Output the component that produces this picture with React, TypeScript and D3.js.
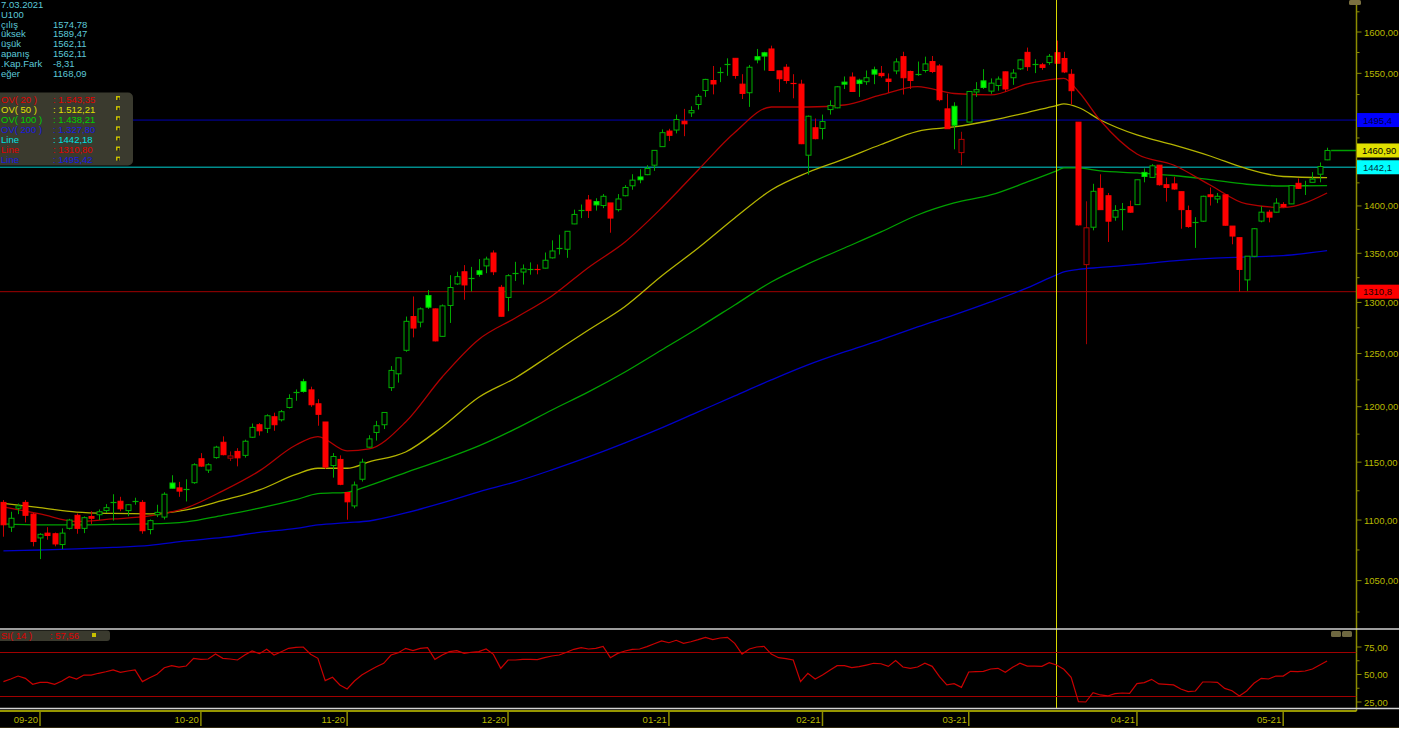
import React from "react";
import * as d3 from "d3";

// ---- candle data (daily, 25.08.2020 .. 11.05.2021), index 0 = first candle ----
const opens = [1115,1094,1110,1115,1105,1085,1089,1088.5,1079.5,1093,1104,1093,1103,1104.5,1108,1114.5,1116,1108,1115.5,1115,1092,1104.5,1102.5,1131.7,1127.5,1126,1132,1153,1143,1154,1167.7,1153.5,1159.5,1156,1172.2,1183.5,1180.2,1190.8,1188,1199.3,1212.5,1223.3,1215.6,1202.7,1186,1147,1152.4,1123.5,1112,1135,1163.3,1176.5,1183.5,1217.7,1230.7,1253.1,1286,1280.5,1306.9,1293.6,1266.6,1297,1318.6,1331,1324,1332,1337,1350.3,1315.2,1305,1328.7,1330.7,1333.3,1334,1334.7,1345.3,1355.5,1354.2,1380.8,1395.5,1406.4,1404.7,1400.4,1403.2,1396,1411,1421.8,1431.5,1434,1444.5,1465.2,1482.8,1484,1494.1,1503.7,1513.4,1529.7,1541.5,1550.5,1560.6,1568,1537.2,1527.1,1570,1574.7,1579.3,1553,1557.3,1538.4,1537.2,1455.6,1486.6,1485.8,1507.5,1509.5,1539.6,1545.6,1541.9,1540.1,1554.2,1550,1543.2,1552.9,1570,1552.2,1548.5,1553.4,1564.1,1558.8,1508.3,1511.3,1458.5,1493.1,1528,1541.1,1529,1535.6,1551.8,1544.8,1555.4,1575.2,1560.4,1560.2,1562.9,1574.78,1567.8,1548.9,1493,1338.3,1377.3,1419,1411,1388,1396.5,1399.2,1401.4,1436.5,1431,1444.5,1423,1423.9,1415.4,1395,1381.5,1383.7,1412,1407.5,1412,1378.5,1366.3,1322.7,1346.9,1383.8,1393.3,1393.3,1401.6,1402.2,1424.5,1421.8,1425.6,1434.5,1450.4];
const highs = [1117,1107,1114,1117,1106,1089,1094,1089.5,1093,1101,1105.5,1103,1107.5,1109,1113.5,1122,1119.8,1113.5,1119,1117,1100.5,1113,1123.7,1138.5,1132.7,1135,1149,1158,1149,1164.5,1173,1159.5,1162.4,1170,1184.6,1185,1193,1194.5,1197,1211.5,1216,1226,1218.6,1207,1186,1158,1156,1124,1133,1153,1174,1187,1194.7,1238,1246,1286,1306,1295,1312.5,1294,1298,1327.5,1331,1337.8,1336,1344,1346.5,1353,1317.6,1328.5,1341.2,1338.5,1340.6,1338.5,1350.8,1363.5,1369.4,1373,1396,1401.5,1411.8,1408.3,1412.8,1403.2,1412.8,1422.5,1434.5,1440,1444.5,1461,1484.7,1485.4,1501.7,1508.3,1511.3,1525.6,1543.5,1558.8,1557.2,1568,1568,1549,1560,1579.3,1575.9,1583.3,1553,1561,1549,1542.4,1500.6,1497.2,1501.7,1518.2,1535,1546.3,1551.1,1543.6,1553.4,1558,1558.8,1549.9,1568,1575.9,1553.3,1564.1,1570,1570.8,1561,1526,1516,1482,1529,1539.6,1555,1544,1546.3,1552.2,1555,1566.9,1581,1566.9,1562.5,1573.2,1589.47,1575.9,1555,1493,1405,1424,1434.4,1414,1400.8,1403.2,1405.7,1428.5,1441,1445.6,1444.5,1430.9,1431.6,1415.4,1400.4,1388,1411,1420,1414,1412,1378.5,1366.3,1347,1376.4,1399.7,1395.8,1408.3,1404,1422,1429.8,1427.3,1436.8,1447.5,1464];
const lows = [1086,1090,1105,1098,1078,1067.5,1083.5,1078,1075.7,1092,1088.5,1089,1096.5,1100,1106,1099.5,1107.5,1103.3,1113,1088.5,1088,1102.5,1100.5,1127,1119.8,1115.8,1131,1145.7,1140.5,1153,1156,1151,1146.3,1154,1171.5,1173.7,1176,1178,1186.5,1198.4,1205.5,1213,1199.9,1182.6,1144,1136.4,1129.8,1100.3,1110,1133,1163,1169.2,1179.6,1214.6,1222.4,1251.7,1265.6,1275.4,1293.6,1261.7,1266,1279.7,1317.6,1302.7,1311,1326,1329.5,1327.6,1286,1291.3,1321.6,1318,1328,1328.4,1334.4,1344.6,1348.7,1345.3,1380.5,1387,1387.1,1395,1397.6,1371.5,1394,1410.4,1417.5,1424.6,1433.5,1438.2,1465,1471.5,1480.2,1477,1499,1507.5,1522.2,1525.2,1539.6,1547.1,1543.6,1519.8,1510.6,1562,1553.4,1553,1527.8,1537.8,1520.6,1468,1434,1473.4,1473.4,1501.7,1509,1531.5,1528.5,1522.2,1536.4,1537.2,1545,1527,1549,1525,1531.5,1547.1,1551,1550.3,1517.1,1485.5,1462.2,1444.6,1493,1522.2,1531.5,1525.8,1529.5,1528,1536.4,1554,1553,1550.3,1554.2,1560.2,1562.11,1550.3,1513.2,1379,1259,1374,1396,1361.8,1384.2,1374,1392.6,1401,1425.6,1431,1422,1404.6,1417.5,1375.7,1376.7,1355.6,1383,1400.4,1403,1379,1359.4,1310.8,1311.6,1346,1382.5,1382.5,1393,1397.8,1402,1418.3,1411.8,1425.6,1425.6,1450];
const closes = [1096,1101.5,1112,1104,1082,1088,1087,1080,1089,1100,1093,1102,1101.5,1107,1110.5,1115,1109.5,1113,1116.5,1091,1099.5,1106.5,1122,1127.2,1124.7,1126.7,1147.7,1146.5,1147.7,1163.3,1156.6,1155.5,1153.8,1168.6,1181.1,1178,1191.7,1183.5,1195.4,1207.6,1213.5,1214.1,1201.8,1193,1145.7,1155,1130.6,1115.5,1130,1150,1170.7,1182.6,1194.7,1233.9,1245.9,1281.3,1274.7,1293.6,1295.3,1262.2,1296.6,1315,1326,1317.6,1324.6,1328.3,1344,1331,1286.3,1327,1329.6,1333.9,1334,1333.3,1342.8,1352.4,1356,1373,1390.9,1396.1,1395,1401.1,1410.4,1387,1407.5,1420,1428,1428.4,1440.8,1461,1481,1478,1496,1491.1,1506.3,1522.9,1542.8,1537.4,1551.4,1561.2,1547.5,1526.3,1557.3,1566.1,1570.7,1553.4,1543.6,1541.5,1537.6,1468.5,1499.8,1474.2,1493.7,1512.1,1534.1,1537.2,1528.6,1537.9,1544.8,1549.1,1547.3,1540.4,1563.7,1544.8,1541.5,1549.2,1561.3,1552.2,1519,1485.5,1489.5,1473.4,1528.6,1530.7,1533.3,1538.4,1543.2,1531.5,1550.3,1566.1,1558,1561.2,1557.1,1570.42,1562.11,1551.7,1529.5,1379.8,1376.7,1415.8,1396,1383.7,1395.2,1397.2,1393.3,1428.4,1432,1443.8,1423,1420,1418.3,1396,1378,1382.3,1410.4,1410,1410.4,1379.4,1368,1333.4,1347,1375.7,1393.3,1388,1403,1399.4,1422,1419,1422.6,1429.1,1443,1460.9];

// RSI(14), one value per candle
const rsi = [43.5,45.9,48.6,46.5,41.1,42.9,42.9,41.1,44.1,48.0,45.9,49.5,49.5,51.1,52.5,54.1,52.0,53.2,54.1,43.5,47.1,50.2,56.2,58.0,56.8,57.7,64.7,63.8,64.1,68.6,64.7,64.1,63.2,67.7,71.4,68.9,72.9,67.7,70.7,73.8,74.7,75.0,68.4,64.7,44.4,47.5,40.5,36.8,44.1,49.5,53.5,57.1,60.2,67.7,69.8,
73.8,71.7,73.8,74.4,63.8,67.7,70.8,71.7,69.2,70.2,70.8,73.2,68.3,55.6,63.2,63.2,63.8,63.8,63.5,65.3,66.8,67.7,70.2,72.9,74.4,73.2,73.8,75.6,65.3,69.2,71.4,72.9,73.2,75.3,78.0,80.5,78.9,81.1,78.3,79.8,81.7,83.8,81.7,83.2,83.8,78.3,68.6,73.2,75.0,75.6,68.6,65.3,64.4,63.2,43.5,51.1,45.9,49.5,53.8,58.0,58.0,56.2,57.1,58.6,60.2,59.8,57.4,62.6,
56.8,55.6,56.8,60.2,57.4,48.0,40.5,41.7,38.3,52.3,52.6,52.9,55.0,55.6,52.0,56.5,60.2,57.7,57.7,57.4,60.8,58.6,54.7,47.4,25.3,25.0,33.5,31.4,30.5,32.6,33.2,32.9,41.7,42.6,45.6,41.4,41.1,40.5,36.8,34.4,35.0,43.2,43.2,42.9,37.4,35.3,30.5,35.0,42.0,46.5,45.9,48.6,48.6,52.9,52.6,53.2,55.0,58.6,62.3];

// moving averages sampled at candle indices
const maIdx = [0,5,10,15,20,25,30,35,40,43,47,50,55,60,65,70,75,80,85,90,95,100,105,110,115,120,125,130,135,140,144,145,147,150,155,160,165,170,175,181];
const ma20 = [1111.1,1105.2,1098.8,1100.9,1103.5,1110.3,1124.9,1142.3,1165.2,1172.8,1160.0,1161.7,1186.0,1227.7,1263.6,1284.6,1306.5,1335.4,1361.8,1397.8,1439.2,1481.2,1510.5,1510.5,1512.8,1524.5,1534.4,1526.2,1524.5,1537.4,1543.4,1544.1,1528.6,1494.9,1457.0,1444.7,1422.7,1402.1,1398.3,1414.0];
const ma50 = [1114.1,1110.5,1106.7,1105.6,1105.2,1108.6,1116.7,1125.7,1139.2,1144.6,1144.6,1150.2,1159.0,1181.5,1208.7,1226.8,1249.6,1272.8,1296.0,1326.7,1355.5,1387.1,1417.2,1436.4,1451.4,1467.6,1482.5,1487.5,1494.9,1504.1,1512.2,1514.0,1509.9,1495.5,1478.4,1467.1,1454.7,1440.6,1432.0,1430.7];
const ma100 = [1096.7,1095.9,1095.9,1096.3,1096.7,1098.4,1104.0,1110.1,1117.3,1122.5,1123.7,1129.5,1140.8,1152.0,1164.4,1179.7,1197.0,1213.7,1232.4,1253.4,1274.8,1297.5,1320.6,1339.0,1355.5,1372.3,1390.3,1403.2,1411.8,1426.0,1438.2,1441.4,1441.4,1438.1,1435.9,1433.1,1428.5,1423.5,1421.6,1422.0];
const ma200 = [1074.2,1075.0,1075.9,1077.1,1078.8,1082.5,1085.4,1089.6,1093.0,1095.9,1097.8,1099.2,1106.0,1114.5,1124.0,1132.7,1143.2,1154.6,1167.1,1180.6,1195.2,1210.0,1224.9,1239.1,1251.5,1263.1,1275.8,1287.6,1300.5,1314.6,1327.8,1330.8,1333.4,1335.4,1338.5,1342.1,1344.7,1346.2,1347.6,1352.7];

const monthLabels = ["09-20","10-20","11-20","12-20","01-21","02-21","03-21","04-21","05-21"];
const monthIdx = [5,27,47,69,91,112,132,155,175];
const cursorIdx = 144;

// price axis (labels at 1450 and 1500 are hidden behind the price boxes)
const yMajor = [1050,1100,1150,1200,1250,1300,1350,1400,1450,1500,1550,1600];
const yMajorLabels = ["1050,00","1100,00","1150,00","1200,00","1250,00","1300,00","1350,00","1400,00","","","1550,00","1600,00"];
const yMinor = [1025,1075,1125,1175,1225,1275,1325,1375,1425,1475,1525,1575,1625];
const rsiTicks = [25,50,75];
const rsiTickLabels = ["25,00","50,00","75,00"];
const rsiMinor = [37.5,62.5];
const rsiLevels = [70,30];

const hLineValues = [1495.42, 1442.18, 1310.80];
const hLineLabels = ["1495,4", "1442,1", "1310,8"];
const lastLabel = "1460,90";

const infoNames = ["7.03.2021","U100","çılış","üksek","üşük","apanış",".Kap.Fark","eğer"];
const infoValues = ["","","1574,78","1589,47","1562,11","1562,11","-8,31","1168,09"];
const legendNames = ["OV( 20 )","OV( 50 )","OV( 100 )","OV( 200 )","Line","Line","Line"];
const legendValues = [": 1.543,35",": 1.512,21",": 1.438,21",": 1.327,80",": 1442,18",": 1310,80",": 1495,42"];
const legendColors = ["#e00000","#e0e000","#00d000","#1818e0","#00e0e0","#e00000","#1818e0"];

const FONT = "'Liberation Sans', Arial, sans-serif";
const AXIS = "#b8b800";

export default function App() {
  const x = d3.scaleLinear().domain([5, 144]).range([40, 1056.5]);
  const y = d3.scaleLog().domain([1012.5, 1639.8]).range([628, 0]);
  const yr = d3.scaleLinear().domain([25, 75]).range([702, 647]);

  const maLine = d3.line<number>()
    .x((_, i) => x(maIdx[i]))
    .y((d) => y(d))
    .curve(d3.curveMonotoneX);
  const rsiLine = d3.line<number>()
    .x((_, i) => x(i))
    .y((d) => yr(d));

  const candles = opens.map((o, k) => {
    const c = closes[k], h = highs[k], l = lows[k];
    const prev = k > 0 ? closes[k - 1] : o;
    const up = c >= o;
    const green = c >= prev;
    const cx = Math.round(x(k)) + 0.5;
    const top = y(Math.max(o, c));
    const bot = y(Math.min(o, c));
    let bodyFill: string, bodyStroke: string, wick: string;
    if (green && up) { bodyFill = "#000"; bodyStroke = "#00b000"; wick = "#00a800"; }
    else if (green && !up) { bodyFill = "#00ff00"; bodyStroke = "#00d000"; wick = "#00a800"; }
    else if (!green && !up) { bodyFill = "#ff0000"; bodyStroke = "#ff0000"; wick = "#c80000"; }
    else { bodyFill = "#000"; bodyStroke = "#b00000"; wick = "#a00000"; }
    const hgt = bot - top;
    return (
      <g key={k}>
        <line x1={cx} x2={cx} y1={y(h)} y2={y(l)} stroke={wick} strokeWidth={1} />
        {hgt < 1.5 ? (
          <line x1={cx - 3} x2={cx + 3} y1={Math.round(top) + 0.5} y2={Math.round(top) + 0.5} stroke={bodyStroke === "#000" ? wick : bodyStroke} strokeWidth={1.2} />
        ) : (
          <rect x={cx - 2.5} y={top} width={5} height={hgt} fill={bodyFill} stroke={bodyStroke} strokeWidth={1} />
        )}
      </g>
    );
  });

  const lastY = y(closes[closes.length - 1]);
  const lastX = x(closes.length - 1);
  const axisX = 1356.5;

  return (
    <svg width={1425} height={731} style={{ position: "absolute", left: 0, top: 0, display: "block" }} fontFamily={FONT}>
      <rect x={0} y={0} width={1425} height={731} fill="#fff" />
      <rect x={0} y={0} width={1399} height={728} fill="#000" />
      <defs>
        <clipPath id="mainClip"><rect x={0} y={0} width={axisX} height={628} /></clipPath>
        <clipPath id="rsiClip"><rect x={0} y={630} width={axisX} height={78} /></clipPath>
      </defs>

      {/* horizontal reference lines */}
      <g clipPath="url(#mainClip)">
        <line x1={0} x2={axisX} y1={y(hLineValues[0])} y2={y(hLineValues[0])} stroke="#0000b4" strokeWidth={1} />
        <line x1={0} x2={axisX} y1={y(hLineValues[1])} y2={y(hLineValues[1])} stroke="#008c8c" strokeWidth={1.6} />
        <line x1={0} x2={axisX} y1={y(hLineValues[2])} y2={y(hLineValues[2])} stroke="#a00000" strokeWidth={1} />
        {/* moving averages */}
        <path d={maLine(ma200) || ""} fill="none" stroke="#0000c8" strokeWidth={1.3} />
        <path d={maLine(ma100) || ""} fill="none" stroke="#00a000" strokeWidth={1.3} />
        <path d={maLine(ma50) || ""} fill="none" stroke="#b4b400" strokeWidth={1.3} />
        <path d={maLine(ma20) || ""} fill="none" stroke="#b00000" strokeWidth={1.3} />
        {candles}
        <line x1={lastX + 4} x2={axisX} y1={lastY} y2={lastY} stroke="#00a000" strokeWidth={1.5} />
      </g>

      {/* cursor line */}
      <line x1={x(cursorIdx)} x2={x(cursorIdx)} y1={0} y2={708} stroke="#d8d800" strokeWidth={1} />

      {/* info box */}
      <g fontSize={9.5} fill="#5cc8d8">
        {infoNames.map((n, i) => (
          <g key={i}>
            <text x={1} y={7.7 + 9.9 * i}>{n}</text>
            {infoValues[i] && <text x={53} y={7.7 + 9.9 * i}>{infoValues[i]}</text>}
          </g>
        ))}
      </g>

      {/* legend box */}
      <rect x={-6} y={92.5} width={139} height={73} rx={5} fill="#3a3a2e" />
      <g fontSize={9.5}>
        {legendNames.map((n, i) => (
          <g key={i} fill={legendColors[i]}>
            <text x={1} y={102.5 + 10.1 * i}>{n}</text>
            <text x={53} y={102.5 + 10.1 * i}>{legendValues[i]}</text>
            <rect x={116} y={96 + 10.1 * i} width={4} height={4} fill="#c8c000" />
            <rect x={117.5} y={97.5 + 10.1 * i} width={2} height={3} fill="#222" />
          </g>
        ))}
      </g>

      {/* right price axis */}
      <line x1={axisX} x2={axisX} y1={0} y2={711} stroke="#8c8c00" strokeWidth={1.5} />
      <rect x={1349} y={0} width={12} height={5} rx={1.5} fill="#7a7040" />
      {yMajor.map((v, i) => (
        <g key={v}>
          <line x1={axisX} x2={axisX + 5} y1={y(v)} y2={y(v)} stroke="#8c8c00" strokeWidth={1} />
          {yMajorLabels[i] && <text x={1364} y={y(v) + 3.5} fontSize={9.5} fill={AXIS}>{yMajorLabels[i]}</text>}
        </g>
      ))}
      {yMinor.map((v) => (
        <line key={v} x1={axisX} x2={axisX + 3} y1={y(v)} y2={y(v)} stroke="#8c8c00" strokeWidth={1} />
      ))}

      {/* price label boxes */}
      <rect x={1357} y={y(hLineValues[0]) - 7} width={42} height={14} fill="#0000ff" />
      <text x={1363} y={y(hLineValues[0]) + 3.5} fontSize={9.5} fill="#000040">{hLineLabels[0]}</text>
      <rect x={1357} y={lastY - 7} width={42} height={14} fill="#e0e000" />
      <text x={1362} y={lastY + 3.5} fontSize={9.5} fill="#000">{lastLabel}</text>
      <rect x={1357} y={y(hLineValues[1]) - 7} width={42} height={14} fill="#00ffff" />
      <text x={1363} y={y(hLineValues[1]) + 3.5} fontSize={9.5} fill="#003040">{hLineLabels[1]}</text>
      <rect x={1357} y={y(hLineValues[2]) - 7} width={42} height={14} fill="#ff0000" />
      <text x={1363} y={y(hLineValues[2]) + 3.5} fontSize={9.5} fill="#200000">{hLineLabels[2]}</text>

      {/* panel separators */}
      <line x1={0} x2={1399} y1={629} y2={629} stroke="#d0d0d0" strokeWidth={1.5} />
      <line x1={0} x2={1399} y1={708.5} y2={708.5} stroke="#d0d0d0" strokeWidth={1.5} />

      {/* RSI panel */}
      <g clipPath="url(#rsiClip)">
        {rsiLevels.map((v) => (
          <line key={v} x1={0} x2={axisX} y1={yr(v)} y2={yr(v)} stroke="#a00000" strokeWidth={1} />
        ))}
        <path d={rsiLine(rsi) || ""} fill="none" stroke="#c80000" strokeWidth={1.2} />
      </g>
      <rect x={-6} y={630.5} width={116} height={10.5} rx={3} fill="#3a3a2e" />
      <text x={1} y={639} fontSize={9.5} fill="#e00000">SI( 14 )</text>
      <text x={50} y={639} fontSize={9.5} fill="#e00000">: 57,56</text>
      <rect x={92} y={633} width={4} height={4} fill="#c8c000" />
      <rect x={1331} y={631} width={10} height={6} rx={1.5} fill="#6e6840" />
      <rect x={1342} y={631} width={10} height={6} rx={1.5} fill="#6e6840" />
      {rsiTicks.map((v, i) => (
        <g key={v}>
          <line x1={axisX} x2={axisX + 5} y1={yr(v)} y2={yr(v)} stroke="#8c8c00" />
          <text x={1364} y={yr(v) + 3.5} fontSize={9.5} fill={AXIS}>{rsiTickLabels[i]}</text>
        </g>
      ))}
      {rsiMinor.map((v) => (
        <line key={v} x1={axisX} x2={axisX + 3} y1={yr(v)} y2={yr(v)} stroke="#8c8c00" />
      ))}

      {/* date axis */}
      <line x1={0} x2={axisX} y1={711} y2={711} stroke="#c8c800" strokeWidth={1.5} />
      {monthIdx.map((k, i) => (
        <g key={k}>
          <line x1={x(k)} x2={x(k)} y1={712} y2={726} stroke="#8c8c00" strokeWidth={1.5} />
          <text x={x(k) - 2} y={723} fontSize={9.5} fill={AXIS} textAnchor="end">{monthLabels[i]}</text>
        </g>
      ))}
      <line x1={0} x2={1399} y1={727.5} y2={727.5} stroke="#302810" strokeWidth={1} />
    </svg>
  );
}
